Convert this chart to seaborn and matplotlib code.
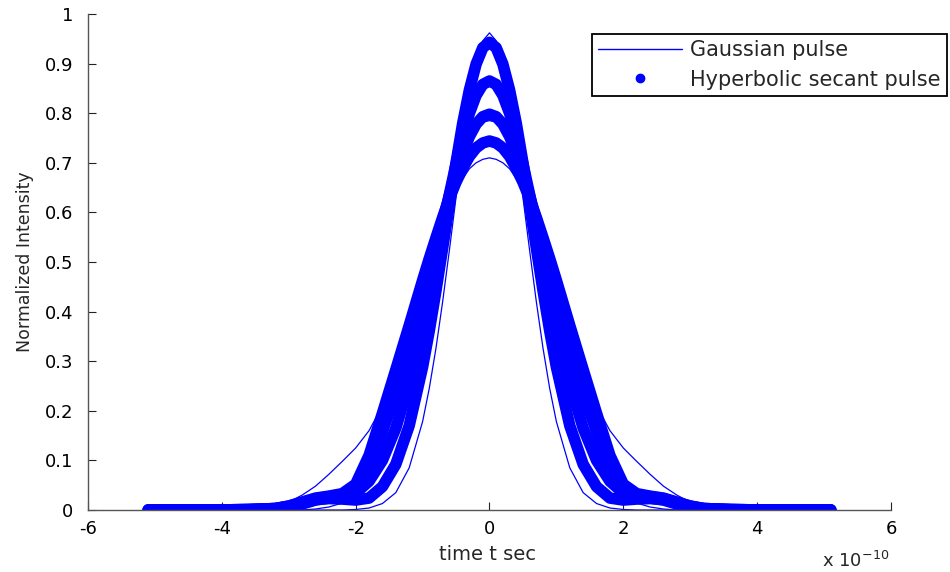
import numpy as np
import matplotlib
matplotlib.use("Agg")
import matplotlib.pyplot as plt
from matplotlib.lines import Line2D
import seaborn as sns

sns.set_theme(style="white")
plt.rcParams["font.family"] = ["DejaVu Sans"]
plt.rcParams["mathtext.default"] = "regular"

# time axis (units of 1e-10 s)
t = [-5.1, -4.6, -4.1, -3.6, -3.2, -3.0, -2.8, -2.6, -2.4, -2.2, -2.0,
     -1.8, -1.6, -1.4, -1.2, -1.0, -0.9, -0.8, -0.7, -0.6, -0.5, -0.4,
     -0.3, -0.2, -0.1, 0.0, 0.1, 0.2, 0.3, 0.4, 0.5, 0.6, 0.7, 0.8, 0.9,
     1.0, 1.2, 1.4, 1.6, 1.8, 2.0, 2.2, 2.4, 2.6, 2.8, 3.0, 3.2, 3.6,
     4.1, 4.6, 5.1]

# Gaussian pulses (thin lines)
gauss_1 = [0, 0, 0, 0, 0, 0, 0, 0, 0, 0, 0.001,
           0.004, 0.013, 0.035, 0.085, 0.178, 0.245, 0.326, 0.420, 0.523, 0.630, 0.733,
           0.826, 0.899, 0.946, 0.962, 0.946, 0.899, 0.826, 0.733, 0.630, 0.523, 0.420, 0.326, 0.245,
           0.178, 0.085, 0.035, 0.013, 0.004, 0.001, 0, 0, 0, 0, 0, 0, 0,
           0, 0, 0]
gauss_2 = [0, 0, 0, 0, 0, 0, 0, 0.002, 0.006, 0.014, 0.030,
           0.060, 0.115, 0.190, 0.290, 0.400, 0.460, 0.520, 0.575, 0.630, 0.690, 0.735,
           0.757, 0.772, 0.782, 0.785, 0.782, 0.772, 0.757, 0.735, 0.690, 0.630, 0.575, 0.520, 0.460,
           0.400, 0.290, 0.190, 0.115, 0.060, 0.030, 0.014, 0.006, 0.002, 0, 0, 0, 0,
           0, 0, 0]
gauss_3 = [0, 0, 0, 0.002, 0.008, 0.016, 0.030, 0.048, 0.072, 0.098, 0.125,
           0.160, 0.210, 0.280, 0.362, 0.450, 0.493, 0.535, 0.575, 0.610, 0.642, 0.668,
           0.688, 0.700, 0.707, 0.710, 0.707, 0.700, 0.688, 0.668, 0.642, 0.610, 0.575, 0.535, 0.493,
           0.450, 0.362, 0.280, 0.210, 0.160, 0.125, 0.098, 0.072, 0.048, 0.030, 0.016, 0.008, 0.002,
           0, 0, 0]

# Hyperbolic secant pulses (dense dots)
sech_1 = [0, 0, 0, 0.001, 0.003, 0.007, 0.014, 0.021, 0.023, 0.022, 0.020,
          0.024, 0.047, 0.092, 0.170, 0.288, 0.361, 0.442, 0.528, 0.615, 0.700, 0.780,
          0.847, 0.899, 0.932, 0.943, 0.932, 0.899, 0.847, 0.780, 0.700, 0.615, 0.528, 0.442, 0.361,
          0.288, 0.170, 0.092, 0.047, 0.024, 0.020, 0.022, 0.023, 0.021, 0.014, 0.007, 0.003, 0.001,
          0, 0, 0]
sech_2 = [0, 0, 0, 0, 0.002, 0.006, 0.012, 0.020, 0.024, 0.026, 0.034,
          0.058, 0.100, 0.165, 0.255, 0.369, 0.434, 0.502, 0.569, 0.636, 0.698, 0.753,
          0.800, 0.836, 0.858, 0.865, 0.858, 0.836, 0.800, 0.753, 0.698, 0.636, 0.569, 0.502, 0.434,
          0.369, 0.255, 0.165, 0.100, 0.058, 0.034, 0.026, 0.024, 0.020, 0.012, 0.006, 0.002, 0,
          0, 0, 0]
sech_3 = [0, 0, 0, 0.001, 0.003, 0.008, 0.015, 0.023, 0.027, 0.030, 0.045,
          0.090, 0.158, 0.235, 0.322, 0.422, 0.476, 0.530, 0.584, 0.634, 0.680, 0.720,
          0.753, 0.778, 0.793, 0.798, 0.793, 0.778, 0.753, 0.720, 0.680, 0.634, 0.584, 0.530, 0.476,
          0.422, 0.322, 0.235, 0.158, 0.090, 0.045, 0.030, 0.027, 0.023, 0.015, 0.008, 0.003, 0.001,
          0, 0, 0]
sech_4 = [0, 0, 0, 0.001, 0.003, 0.008, 0.016, 0.024, 0.028, 0.033, 0.052,
          0.110, 0.195, 0.283, 0.372, 0.463, 0.507, 0.549, 0.590, 0.628, 0.661, 0.689,
          0.713, 0.730, 0.740, 0.744, 0.740, 0.730, 0.713, 0.689, 0.661, 0.628, 0.590, 0.549, 0.507,
          0.463, 0.372, 0.283, 0.195, 0.110, 0.052, 0.033, 0.028, 0.024, 0.016, 0.008, 0.003, 0.001,
          0, 0, 0]

gauss_curves = [gauss_1, gauss_2, gauss_3]
sech_curves = [sech_1, sech_2, sech_3, sech_4]

blue = "#0000ff"

fig = plt.figure(figsize=(9.5, 5.72), dpi=100)
ax = fig.add_axes([0.0926, 0.1084, 0.8453, 0.8671])

for vals in sech_curves:
    sns.lineplot(x=t, y=vals, ax=ax, color=blue, linewidth=8.3,
                 solid_capstyle="round", solid_joinstyle="round", legend=False)
for vals in gauss_curves:
    sns.lineplot(x=t, y=vals, ax=ax, color=blue, linewidth=0.9, legend=False)

ax.set_xlim(-6, 6)
ax.set_ylim(0, 1)
ax.set_xticks([-6, -4, -2, 0, 2, 4, 6])
ax.set_xticklabels(["-6", "-4", "-2", "0", "2", "4", "6"])
ax.set_yticks(np.arange(0, 1.01, 0.1))
ax.set_yticklabels(["0", "0.1", "0.2", "0.3", "0.4", "0.5", "0.6", "0.7", "0.8", "0.9", "1"])

for side in ["top", "right"]:
    ax.spines[side].set_visible(False)
for side in ["left", "bottom"]:
    ax.spines[side].set_color("#555555")
    ax.spines[side].set_linewidth(1.0)

ax.tick_params(axis="both", direction="in", length=5.5, width=0.8,
               color="#222222", labelsize=13, labelcolor="black",
               bottom=True, left=True)
ax.tick_params(axis="y", pad=10.5)
ax.tick_params(axis="x", pad=7)

ax.set_xlabel("time t sec", fontsize=14)
ax.set_ylabel("Normalized Intensity", fontsize=12.5)
ax.xaxis.set_label_coords(0.497, -0.07)
ax.yaxis.set_label_coords(-0.067, 0.5)

fig.text(822 / 950, 5 / 572, r"x 10$^{-10}$", fontsize=13, ha="left", va="baseline")

handles = [Line2D([], [], color=blue, linewidth=1.0),
           Line2D([], [], color=blue, marker="o", linestyle="none", markersize=6)]
leg = ax.legend(handles, ["Gaussian pulse", "Hyperbolic secant pulse"],
                loc="upper left", bbox_to_anchor=(592 / 950, 1 - 34 / 572),
                bbox_transform=fig.transFigure, borderaxespad=0,
                fontsize=15, frameon=True, fancybox=False, framealpha=1,
                edgecolor="black", borderpad=0.3, labelspacing=0.45,
                handlelength=4.0, handletextpad=0.4)
leg.get_frame().set_linewidth(1.3)

fig.savefig("out.png", dpi=100)
